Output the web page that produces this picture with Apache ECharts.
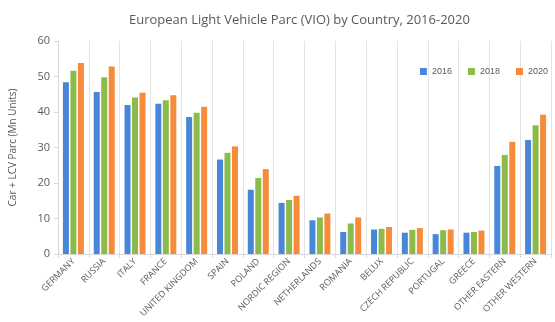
<!DOCTYPE html>
<html>
<head>
<meta charset="utf-8">
<script src="https://cdn.jsdelivr.net/npm/echarts@6/dist/echarts.min.js"></script>
<style>
  html, body { margin: 0; padding: 0; background: #fff; }
  #chart { width: 555px; height: 322px; }
</style>
</head>
<body>
<div id="chart"></div>
<script>
// countries, left to right
var countries = ['GERMANY', 'RUSSIA', 'ITALY', 'FRANCE', 'UNITED KINGDOM', 'SPAIN', 'POLAND',
    'NORDIC REGION', 'NETHERLANDS', 'ROMANIA', 'BELUX', 'CZECH REPUBLIC', 'PORTUGAL',
    'GREECE', 'OTHER EASTERN', 'OTHER WESTERN'];
var yearNames = ['2016', '2018', '2020'];
// parc values, Mn units
var parc2016 = [48.4, 45.6, 42.0, 42.3, 38.6, 26.6, 18.1, 14.4, 9.5, 6.2, 6.9, 6.0, 5.6, 6.0, 24.8, 32.1];
var parc2018 = [51.6, 49.8, 44.1, 43.3, 39.8, 28.5, 21.4, 15.2, 10.3, 8.6, 7.1, 6.8, 6.7, 6.2, 27.9, 36.3];
var parc2020 = [53.8, 52.8, 45.4, 44.7, 41.5, 30.3, 23.9, 16.4, 11.4, 10.3, 7.6, 7.3, 6.9, 6.6, 31.6, 39.2];
var yTicks = [0, 10, 20, 30, 40, 50, 60];

var colors = ['#4886d8', '#8cbb4b', '#f58b3b'];
var grey = '#595959';

var myChart = echarts.init(document.getElementById('chart'));

var seriesList = [parc2016, parc2018, parc2020].map(function (vals, i) {
    return {
        name: yearNames[i],
        type: 'bar',
        data: vals,
        barWidth: 6,
        barGap: '25%',
        itemStyle: { color: colors[i] }
    };
});

var options = {
    animation: false,
    title: {
        text: 'European Light Vehicle Parc (VIO) by Country, 2016-2020',
        left: 124,
        top: 9,
        textStyle: { color: grey, fontSize: 13, fontWeight: 'normal', fontFamily: 'Open Sans' }
    },
    legend: {
        data: yearNames,
        right: 2,
        top: 62,
        itemWidth: 7,
        itemHeight: 7,
        itemGap: 16,
        icon: 'rect',
        textStyle: { color: grey, fontSize: 9 }
    },
    grid: { left: 55, right: 4, top: 41, bottom: 68 },
    xAxis: {
        type: 'category',
        data: countries,
        axisLine: { lineStyle: { color: '#d9d9d9' } },
        axisTick: { show: true, length: 4, lineStyle: { color: '#d9d9d9' } },
        splitLine: { show: true, lineStyle: { color: '#e3e3e3' } },
        axisLabel: {
            rotate: 45,
            interval: 0,
            margin: 6,
            color: grey,
            fontSize: 9,
            fontFamily: 'Open Sans'
        }
    },
    yAxis: {
        type: 'value',
        min: yTicks[0],
        max: yTicks[yTicks.length - 1],
        interval: 10,
        name: 'Car + LCV Parc (Mn Units)',
        nameLocation: 'middle',
        nameGap: 40,
        nameTextStyle: { color: grey, fontSize: 10, fontFamily: 'Open Sans' },
        axisLine: { show: true, lineStyle: { color: '#d9d9d9' } },
        axisTick: { show: true, length: 4, lineStyle: { color: '#d9d9d9' } },
        splitLine: { show: false },
        axisLabel: { color: grey, fontSize: 11, margin: 8, fontFamily: 'Open Sans' }
    },
    series: seriesList
};
myChart.setOption(options);
</script>
</body>
</html>
